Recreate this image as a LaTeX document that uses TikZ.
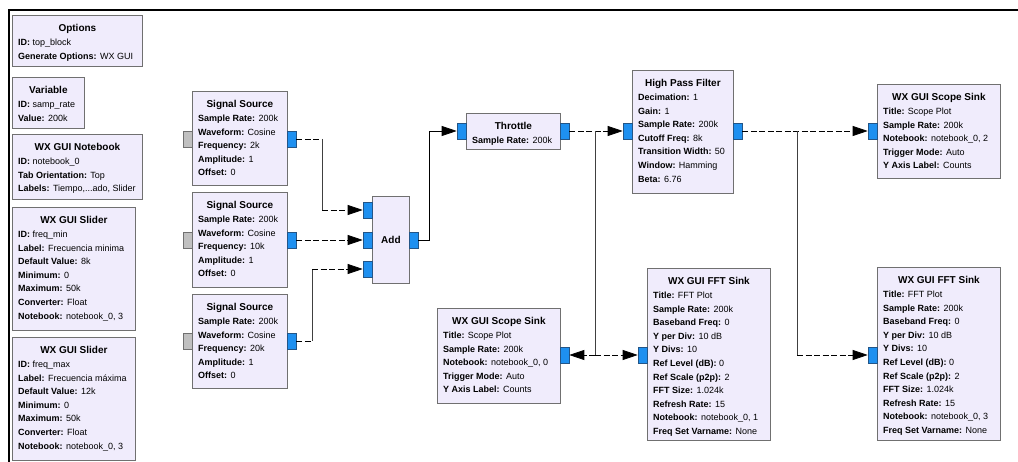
\documentclass[tikz,border=0pt]{standalone}
\usepackage{fontspec}
\setmainfont{Liberation Sans}
\usetikzlibrary{arrows.meta,positioning}
\definecolor{blkfill}{RGB}{240,236,252}
\definecolor{blkline}{RGB}{112,112,112}
\definecolor{portblue}{RGB}{30,144,240}
\definecolor{portline}{RGB}{35,85,135}
\definecolor{portgray}{RGB}{192,192,192}

\newcommand{\kv}[2]{\textbf{#1:} #2}
% name, x, y, width, height, title, parameter lines
\newcommand{\grcblock}[7]{%
  \node[blk, minimum width=#4pt, minimum height=#5pt] (#1) at (#2,#3) {};
  \node[ttl] (#1-t) at ([yshift=-16.5pt]#1.north) {#6};
  \foreach \entry [count=\i] in {#7}
    \node[txt] (#1-\i) at ([xshift=6pt,yshift=-16.9pt-13.6pt*\i]#1.north west) {\entry};
}

\begin{document}
\begin{tikzpicture}[x=1pt,y=-1pt,
  blk/.style={draw=blkline, fill=blkfill, line width=0.8pt, anchor=north west, inner sep=0pt},
  ttl/.style={anchor=base, inner sep=0pt, font=\fontsize{10}{11}\selectfont\bfseries},
  txt/.style={anchor=base west, inner sep=0pt, font=\fontsize{9}{11}\selectfont},
  port/.style={draw=portline, fill=portblue, line width=0.6pt, minimum width=9pt, minimum height=16pt, inner sep=0pt},
  gport/.style={port, draw=blkline, fill=portgray},
  hwire/.style={line width=0.75pt, dash pattern=on 6pt off 2.5pt},
  vwire/.style={line width=0.75pt, black!75},
  sig/.style={-{Triangle[length=15pt,width=10pt]}}]
\useasboundingbox (0,0) rectangle (1018,462);
\draw[line width=2pt] (1018,10) -- (9,10) -- (9,462);

% variables and gui blocks
\grcblock{opt}{12}{15}{130}{51}{Options}{{\kv{ID}{top\_block}},{\kv{Generate Options}{WX GUI}}}
\grcblock{var}{12}{77}{72}{51}{Variable}{{\kv{ID}{samp\_rate}},{\kv{Value}{200k}}}
\grcblock{nb}{12}{134}{130}{65}{WX GUI Notebook}{{\kv{ID}{notebook\_0}},{\kv{Tab Orientation}{Top}},{\kv{Labels}{Tiempo,...ado, Slider}}}
\grcblock{sl1}{12}{207}{123}{123}{WX GUI Slider}{{\kv{ID}{freq\_min}},{\kv{Label}{Frecuencia minima}},{\kv{Default Value}{8k}},{\kv{Minimum}{0}},{\kv{Maximum}{50k}},{\kv{Converter}{Float}},{\kv{Notebook}{notebook\_0, 3}}}
\grcblock{sl2}{12}{337}{123}{123}{WX GUI Slider}{{\kv{ID}{freq\_max}},{\kv{Label}{Frecuencia máxima}},{\kv{Default Value}{12k}},{\kv{Minimum}{0}},{\kv{Maximum}{50k}},{\kv{Converter}{Float}},{\kv{Notebook}{notebook\_0, 3}}}

% sources
\grcblock{ss1}{192}{91}{95}{94}{Signal Source}{{\kv{Sample Rate}{200k}},{\kv{Waveform}{Cosine}},{\kv{Frequency}{2k}},{\kv{Amplitude}{1}},{\kv{Offset}{0}}}
\grcblock{ss2}{192}{192}{95}{95}{Signal Source}{{\kv{Sample Rate}{200k}},{\kv{Waveform}{Cosine}},{\kv{Frequency}{10k}},{\kv{Amplitude}{1}},{\kv{Offset}{0}}}
\grcblock{ss3}{192}{294}{95}{94}{Signal Source}{{\kv{Sample Rate}{200k}},{\kv{Waveform}{Cosine}},{\kv{Frequency}{20k}},{\kv{Amplitude}{1}},{\kv{Offset}{0}}}
\node[gport] (ss1g) at (187.5,139) {};
\node[gport] (ss2g) at (187.5,240) {};
\node[gport] (ss3g) at (187.5,341) {};
\node[port] (ss1o) at (291.5,139) {};
\node[port] (ss2o) at (291.5,240) {};
\node[port] (ss3o) at (291.5,341) {};

% adder
\node[blk, minimum width=37pt, minimum height=87pt] (add) at (372,196) {};
\node[ttl, anchor=center] (add-t) at (add.center) {Add};
\node[port] (a1) at (367.5,210) {};
\node[port] (a2) at (367.5,240) {};
\node[port] (a3) at (367.5,269) {};
\node[port] (ao) at (413.5,240) {};

% processing
\grcblock{thr}{466}{113}{94}{36}{Throttle}{{\kv{Sample Rate}{200k}}}
\node[port] (thri) at (461.5,131) {};
\node[port] (thro) at (564.5,131) {};
\grcblock{hpf}{632}{70}{101}{123}{High Pass Filter}{{\kv{Decimation}{1}},{\kv{Gain}{1}},{\kv{Sample Rate}{200k}},{\kv{Cutoff Freq}{8k}},{\kv{Transition Width}{50}},{\kv{Window}{Hamming}},{\kv{Beta}{6.76}}}
\node[port] (hpfi) at (627.5,131) {};
\node[port] (hpfo) at (737.5,131) {};

% sinks
\grcblock{sc1}{877}{84}{123}{94}{WX GUI Scope Sink}{{\kv{Title}{Scope Plot}},{\kv{Sample Rate}{200k}},{\kv{Notebook}{notebook\_0, 2}},{\kv{Trigger Mode}{Auto}},{\kv{Y Axis Label}{Counts}}}
\node[port] (sc1i) at (872.5,131) {};
\grcblock{sc2}{437}{308}{123}{95}{WX GUI Scope Sink}{{\kv{Title}{Scope Plot}},{\kv{Sample Rate}{200k}},{\kv{Notebook}{notebook\_0, 0}},{\kv{Trigger Mode}{Auto}},{\kv{Y Axis Label}{Counts}}}
\node[port] (sc2i) at (564.5,355) {};
\grcblock{fft1}{647}{268}{123}{172}{WX GUI FFT Sink}{{\kv{Title}{FFT Plot}},{\kv{Sample Rate}{200k}},{\kv{Baseband Freq}{0}},{\kv{Y per Div}{10 dB}},{\kv{Y Divs}{10}},{\kv{Ref Level (dB)}{0}},{\kv{Ref Scale (p2p)}{2}},{\kv{FFT Size}{1.024k}},{\kv{Refresh Rate}{15}},{\kv{Notebook}{notebook\_0, 1}},{\kv{Freq Set Varname}{None}}}
\node[port] (fft1i) at (642.5,355) {};
\grcblock{fft2}{877}{267}{123}{173}{WX GUI FFT Sink}{{\kv{Title}{FFT Plot}},{\kv{Sample Rate}{200k}},{\kv{Baseband Freq}{0}},{\kv{Y per Div}{10 dB}},{\kv{Y Divs}{10}},{\kv{Ref Level (dB)}{0}},{\kv{Ref Scale (p2p)}{2}},{\kv{FFT Size}{1.024k}},{\kv{Refresh Rate}{15}},{\kv{Notebook}{notebook\_0, 3}},{\kv{Freq Set Varname}{None}}}
\node[port] (fft2i) at (872.5,355) {};

% connections
\coordinate (k1) at (322,139);
\coordinate (k2) at (322,210);
\coordinate (k3) at (312,341);
\coordinate (k4) at (312,269);
\coordinate (k5) at (429,240);
\coordinate (k6) at (429,131);
\coordinate (b1) at (595,131);
\coordinate (b2) at (595,355);
\coordinate (b3) at (797,131);
\coordinate (b4) at (797,355);

\draw[hwire] (ss1o.east) -- (k1);
\draw[vwire] (k1) -- (k2);
\draw[hwire, sig] (k2) -- (a1.west);
\draw[hwire, sig] (ss2o.east) -- (a2.west);
\draw[hwire] (ss3o.east) -- (k3);
\draw[vwire] (k3) -- (k4);
\draw[hwire, sig] (k4) -- (a3.west);
\draw[line width=0.75pt, sig] (ao.east) -- (k5) -- (k6) -- (thri.west);

\draw[hwire, sig] (thro.east) -- (hpfi.west);
\draw[vwire] (b1) -- (b2);
\draw[hwire, sig] (b2) -- (fft1i.west);
\draw[hwire, sig] (b2) -- (sc2i.east);

\draw[hwire, sig] (hpfo.east) -- (sc1i.west);
\draw[vwire] (b3) -- (b4);
\draw[hwire, sig] (b4) -- (fft2i.west);
\end{tikzpicture}
\end{document}
